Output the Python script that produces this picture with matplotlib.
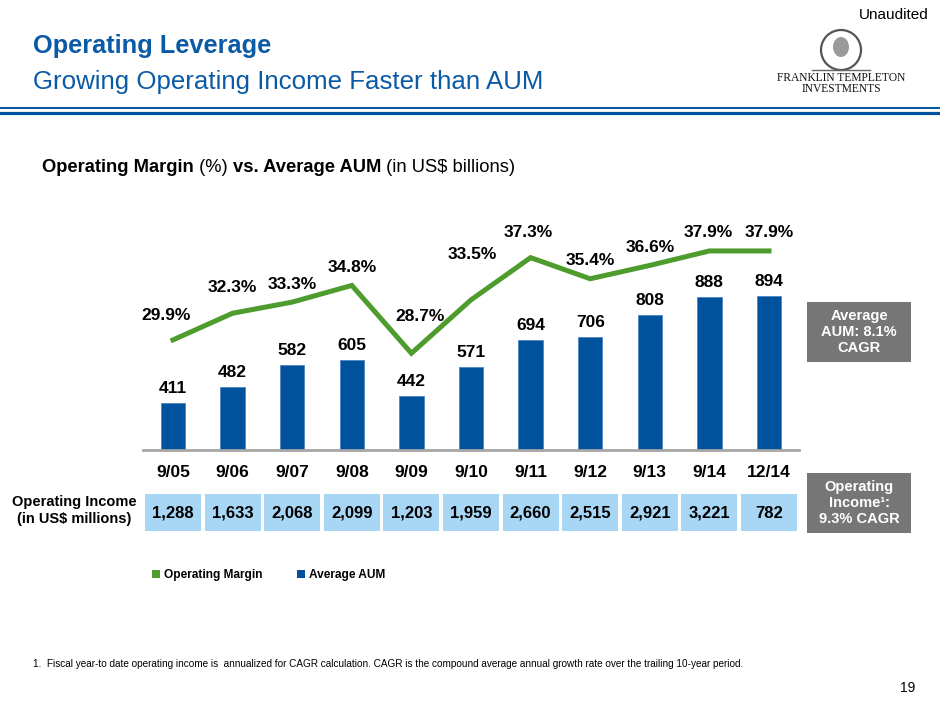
import matplotlib
matplotlib.use('Agg')
import matplotlib.pyplot as plt
from matplotlib.patches import Rectangle, Ellipse
from matplotlib.transforms import blended_transform_factory
import numpy as np

# data
periods = ['9/05', '9/06', '9/07', '9/08', '9/09', '9/10', '9/11', '9/12', '9/13', '9/14', '12/14']
avg_aum = [411, 482, 582, 605, 442, 571, 694, 706, 808, 888, 894]
op_margin = [29.9, 32.3, 33.3, 34.8, 28.7, 33.5, 37.3, 35.4, 36.6, 37.9, 37.9]
op_income = ['1,288', '1,633', '2,068', '2,099', '1,203', '1,959', '2,660', '2,515', '2,921', '3,221', '782']

# label nudges for the margin labels (pixels, dx / dy above the point)
margin_label_off = [(-7, 24), (0, 26), (0, 18), (0, 18), (9, 37), (1, 45),
                    (-2, 25), (0, 18), (0, 18), (-1, 18), (0, 18)]

W, H = 940, 705
BLUE = '#00529C'
TITLE_BLUE = '#0B5AA6'
GREEN = '#4E9C2D'
GREY_BOX = '#767676'
LIGHT_BLUE = '#A8D6F5'
SANS = ['Liberation Sans', 'DejaVu Sans']

plt.rcParams['font.family'] = SANS

fig = plt.figure(figsize=(9.4, 7.05), dpi=100)
renderer = fig.canvas.get_renderer()


def fx(x):
    return x / W


def fy(y):
    return 1 - y / H


def fit_width(t, target):
    # scale a text so that it spans roughly the width seen on the slide
    w = t.get_window_extent(renderer=renderer).width
    t.set_fontsize(t.get_fontsize() * target / w)


# header
t = fig.text(fx(33), fy(46), 'Operating Leverage', fontsize=18, fontweight='bold',
             color=TITLE_BLUE, va='center')
fit_width(t, 239)
t = fig.text(fx(33), fy(82), 'Growing Operating Income Faster than AUM', fontsize=18.5,
             color=TITLE_BLUE, va='center')
fit_width(t, 513)
fig.text(fx(929), fy(15), 'Unaudited', fontsize=11, ha='right', va='center')
fig.add_artist(plt.Line2D([0, 1], [fy(107.6), fy(107.6)], color=BLUE, lw=1.4,
                          transform=fig.transFigure))
fig.add_artist(plt.Line2D([0, 1], [fy(112.6), fy(112.6)], color=BLUE, lw=2.3,
                          transform=fig.transFigure))

# logo text (portrait approximated with a medallion)
fig.add_artist(Ellipse((fx(841), fy(50)), 40 / W, 40 / H, fill=False, ec='#555555',
                       lw=1.6, transform=fig.transFigure))
fig.add_artist(Ellipse((fx(841), fy(47)), 16 / W, 20 / H, fc='#9A9A9A', ec='none',
                       transform=fig.transFigure))
fig.add_artist(plt.Line2D([fx(812), fx(870)], [fy(70), fy(70)], color='#666666', lw=1,
                          transform=fig.transFigure))
for yy, s in [(78, 'FRANKLIN TEMPLETON'), (89, 'INVESTMENTS')]:
    fig.text(fx(841), fy(yy), s, fontsize=8.3, family='Liberation Serif',
             ha='center', va='center', color='#111111')

# chart heading with mixed weights
xpos = 42
for piece, wt in [('Operating Margin', 'bold'), (' (%) ', 'normal'),
                  ('vs. Average AUM', 'bold'), (' (in US$ billions)', 'normal')]:
    t = fig.text(fx(xpos), fy(167), piece, fontsize=13.2, fontweight=wt, va='center')
    xpos += t.get_window_extent(renderer=renderer).width

# main axes: bars on left scale, margin on right scale
ax = fig.add_axes([fx(143.2), fy(450), (798.8 - 143.2) / W, 222.4 / H])
x = np.arange(len(periods))
ax.bar(x, avg_aum, width=0.41, color=BLUE, edgecolor='#4F86C6', linewidth=0.6, zorder=2)
ax.set_xlim(-0.5, len(periods) - 0.5)
ax.set_ylim(200, 1200)
for s in ['top', 'left', 'right']:
    ax.spines[s].set_visible(False)
ax.spines['bottom'].set_color('#A6A6A6')
ax.spines['bottom'].set_linewidth(2)
ax.spines['bottom'].set_zorder(3)
ax.set_yticks([])
ax.set_xticks(x)
ax.set_xticklabels(periods, fontsize=12.5, fontweight='bold')
ax.tick_params(axis='x', length=0, pad=11)
ax.patch.set_alpha(0)

for xi, v in zip(x, avg_aum):
    ax.annotate(str(v), (xi, v), xytext=(0, 7), textcoords='offset pixels',
                ha='center', va='bottom', fontsize=12.5, fontweight='bold')

ax2 = ax.twinx()
ax2.set_ylim(20, 40)
ax2.plot(x, op_margin, color=GREEN, lw=3.6, solid_joinstyle='miter', zorder=3)
ax2.axis('off')
for xi, v, (dx, dy) in zip(x, op_margin, margin_label_off):
    ax2.annotate(f'{v:.1f}%', (xi, v), xytext=(dx, dy), textcoords='offset pixels',
                 ha='center', va='center', fontsize=12.5, fontweight='bold')

# operating income row
tr = blended_transform_factory(ax.transData, fig.transFigure)
for xi, val in zip(x, op_income):
    ax.add_patch(Rectangle((xi - 0.47, fy(531)), 0.94, 37 / H, transform=tr,
                           facecolor=LIGHT_BLUE, edgecolor='none', clip_on=False))
    ax.text(xi, fy(513), val, transform=tr, ha='center', va='center', fontsize=12,
            fontweight='bold')
fig.text(fx(74), fy(510.5), 'Operating Income\n(in US$ millions)', ha='center',
         va='center', fontsize=10.5, fontweight='bold', linespacing=1.2)

# CAGR call-out boxes
for (y0, y1), label in [((302, 362), 'Average\nAUM: 8.1%\nCAGR'),
                        ((473, 533), 'Operating\nIncome\u00b9:\n9.3% CAGR')]:
    fig.add_artist(Rectangle((fx(807), fy(y1)), 104 / W, (y1 - y0) / H,
                             transform=fig.transFigure, facecolor=GREY_BOX, edgecolor='none'))
    fig.text(fx(859), fy((y0 + y1) / 2), label, ha='center', va='center', color='white',
             fontsize=10.5, fontweight='bold', linespacing=1.15)

# legend
for sx, col, name in [(152, GREEN, 'Operating Margin'), (297, BLUE, 'Average AUM')]:
    fig.add_artist(Rectangle((fx(sx), fy(578)), 8 / W, 8 / H, transform=fig.transFigure,
                             facecolor=col, edgecolor='none'))
    fig.text(fx(sx + 12), fy(575), name, va='center', fontsize=8.6, fontweight='bold')

# footnote and page number
t = fig.text(fx(33), fy(664), '1.  Fiscal year-to date operating income is  annualized for '
             'CAGR calculation. CAGR is the compound average annual growth rate over the '
             'trailing 10-year period.', va='center', fontsize=8)
fit_width(t, 720)
fig.text(fx(915), fy(688), '19', ha='right', va='center', fontsize=10)

fig.savefig('out.png', dpi=100)
